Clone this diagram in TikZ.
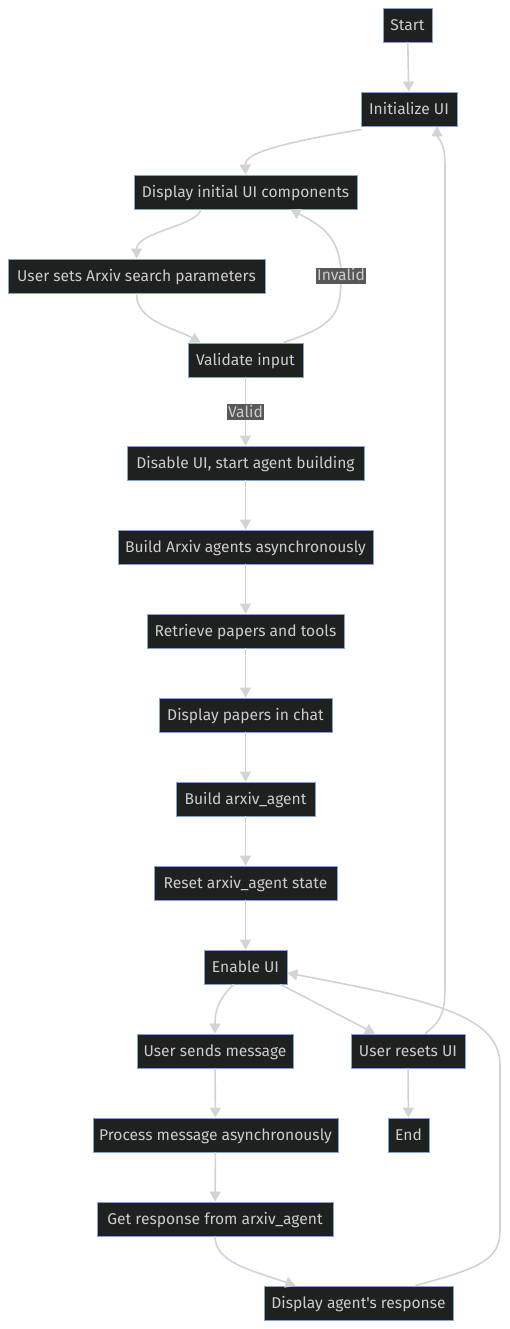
\documentclass[tikz,border=0pt]{standalone}
\usepackage{fontspec}
\newfontfamily\nodefont{Fira Sans}
\usetikzlibrary{arrows.meta,calc}
\definecolor{nodefill}{HTML}{1F2020}
\definecolor{nodeborder}{HTML}{81A3CC}
\definecolor{nodetext}{HTML}{CCCCCC}
\definecolor{edgecol}{HTML}{D3D3D3}
\definecolor{lblfill}{HTML}{585858}
\tikzset{
  box/.style={draw=nodeborder, line width=0.9pt, fill=nodefill, text=nodetext, minimum height=34pt, inner sep=0pt, text height=11pt, text depth=0pt, font=\nodefont\fontsize{15.6}{18}\selectfont},
  lbl/.style={fill=lblfill, text=nodetext, inner xsep=1pt, inner ysep=2pt, text height=11pt, text depth=1pt, font=\nodefont\fontsize{15.6}{18}\selectfont},
  edge/.style={draw=edgecol, line width=1.6pt, -{Triangle[length=10pt,width=11pt]}},
}
\begin{document}
\begin{tikzpicture}[x=1pt,y=-1pt]
\useasboundingbox (0,0) rectangle (509,1329);
\fill[white] (0,0) rectangle (509,1329);
\node[box, minimum width=49pt] (start) at (407.5,25) {Start};
\node[box, minimum width=96pt] (init) at (409,109) {Initialize UI};
\node[box, minimum width=223pt] (disp) at (245.5,192) {Display initial UI components};
\node[box, minimum width=257pt] (params) at (136.5,276) {User sets Arxiv search parameters};
\node[box, minimum width=115pt] (valid) at (245.5,360) {Validate input};
\node[box, minimum width=237pt] (disable) at (245.5,463) {Disable UI, start agent building};
\node[box, minimum width=255pt] (build) at (245.5,547) {Build Arxiv agents asynchronously};
\node[box, minimum width=197pt] (retr) at (245.5,631) {Retrieve papers and tools};
\node[box, minimum width=173pt] (dpc) at (245.5,715) {Display papers in chat};
\node[box, minimum width=139pt] (barx) at (245.5,799) {Build arxiv\_agent};
\node[box, minimum width=183pt] (reset) at (245.5,883) {Reset arxiv\_agent state};
\node[box, minimum width=83pt] (enable) at (245.5,967) {Enable UI};
\node[box, minimum width=156pt] (sends) at (215,1051) {User sends message};
\node[box, minimum width=114pt] (resets) at (408,1051) {User resets UI};
\node[box, minimum width=245pt] (proc) at (215.5,1135) {Process message asynchronously};
\node[box, minimum width=41pt] (end) at (408.5,1135) {End};
\node[box, minimum width=236pt] (get) at (215,1219) {Get response from arxiv\_agent};
\node[box, minimum width=189pt] (dar) at (358.5,1303) {Display agent's response};

\path[edge] (start) -- (init);
\path[edge] ([xshift=1pt,yshift=-3pt]init.south west) .. controls (262,146) and (245,156) .. (disp.north);
\path[edge] ([xshift=-45pt]disp.south) .. controls (200,225) and (136.5,232) .. (params.north);
\path[edge] (params.south) .. controls (136.5,322) and (175,328) .. ([xshift=-45pt]valid.north);
\path[edge] ([xshift=38pt]valid.north) .. controls (335,325) and (341,315) .. (341,276) .. controls (341,236) and (320,225) .. ([xshift=45pt]disp.south);
\path[edge] (valid) -- (disable);
\path[edge] (disable) -- (build);
\path[edge] (build) -- (retr);
\path[edge] (retr) -- (dpc);
\path[edge] (dpc) -- (barx);
\path[edge] (barx) -- (reset);
\path[edge] (reset) -- (enable);
\path[edge] ([xshift=-12pt]enable.south) .. controls (218,1000) and (215,1010) .. (sends.north);
\path[edge] ([xshift=35pt]enable.south) -- ([xshift=-33pt]resets.north);
\path[edge] ([xshift=17pt]resets.north) .. controls (443,1020) and (445,1010) .. (445,985) -- (445,165) .. controls (445,140) and (437,138) .. ([xshift=28pt]init.south);
\path[edge] (resets) -- (end);
\path[edge] (sends) -- (proc);
\path[edge] (proc) -- (get);
\path[edge] (get.south) .. controls (215,1262) and (250,1270) .. ([xshift=-63pt]dar.north);
\path[edge] ([xshift=57pt]dar.north) .. controls (480,1268) and (500,1260) .. (500,1230) -- (500,1065) .. controls (500,1015) and (430,1000) .. ([yshift=-6pt]enable.east);
\node[lbl] (lvalid) at (245.5,412) {Valid};
\node[lbl] (linvalid) at (341,276) {Invalid};
\end{tikzpicture}
\end{document}
